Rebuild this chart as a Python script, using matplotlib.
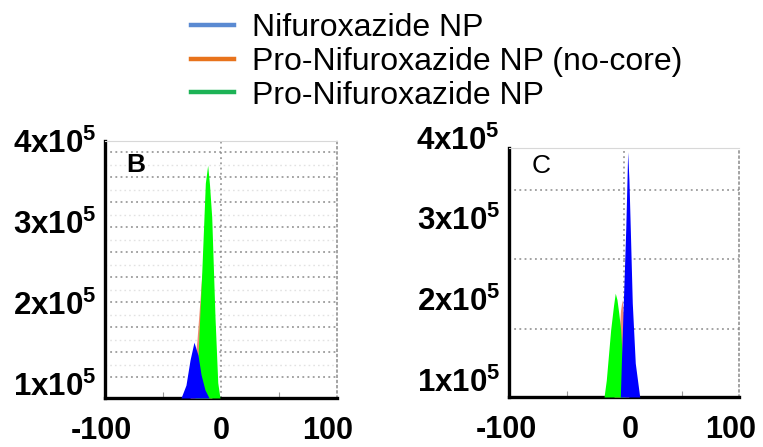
import numpy as np
import matplotlib
matplotlib.use('Agg')
import matplotlib.pyplot as plt
from matplotlib.lines import Line2D
from matplotlib.transforms import ScaledTranslation, blended_transform_factory

plt.rcParams['font.family'] = ['Liberation Sans', 'DejaVu Sans']
plt.rcParams['mathtext.fontset'] = 'custom'
plt.rcParams['mathtext.rm'] = 'Liberation Sans:bold'
plt.rcParams['mathtext.bf'] = 'Liberation Sans:bold'
plt.rcParams['mathtext.it'] = 'Liberation Sans:bold'

# ---------------- data ----------------
series_names = ["Nifuroxazide NP", "Pro-Nifuroxazide NP (no-core)", "Pro-Nifuroxazide NP"]
legend_colors = ["#5a8ad2", "#e8731c", "#1db356"]
fill_colors = ["#0000ff", "#ee8c72", "#00ff00"]

x_ticks = [-100, 0, 100]
x_tick_labels = ["-100", "0", "100"]
y_ticks = [1, 2, 3, 4]  # counts in units of 1e5
y_tick_labels = [r"$\mathbf{1x10^{5}}$", r"$\mathbf{2x10^{5}}$",
                 r"$\mathbf{3x10^{5}}$", r"$\mathbf{4x10^{5}}$"]

# Panel B (zeta potential, mV ; counts x1e5)
b_blue_x = [-34.5, -30.2, -26.7, -23.3, -19.8, -17.2, -13.8, -10.3]
b_blue_y = [0.82, 0.98, 1.29, 1.51, 1.35, 1.11, 0.92, 0.82]
b_orange_x = [-26.7, -23.3, -20.7, -18.1, -16.4, -13.8, -11.2, -7.8]
b_orange_y = [0.82, 1.17, 1.54, 2.04, 2.38, 1.79, 1.17, 0.82]
b_green_x = [-22.4, -20.7, -19.0, -16.6, -13.5, -11.5, -9.9, -8.0, -5.2, -2.8, -0.9]
b_green_y = [0.82, 0.98, 1.60, 2.37, 3.48, 3.70, 3.46, 3.06, 1.83, 1.01, 0.82]

# Panel C
c_blue_x = [-3.2, -2.3, -0.6, 1.5, 2.6, 3.2, 4.3, 5.5, 7.2, 9.8, 13.7]
c_blue_y = [0.79, 1.21, 1.95, 2.85, 3.46, 3.81, 3.46, 2.85, 1.95, 1.21, 0.79]
c_orange_x = [-8.7, -5.2, -3.0, -1.7, 0.0, 2.6, 4.3]
c_orange_y = [0.79, 1.37, 1.86, 1.99, 1.74, 1.00, 0.79]
c_green_x = [-17.4, -15.4, -11.6, -9.1, -7.6, -6.1, -4.6, -2.9, -0.9, 0.9]
c_green_y = [0.79, 1.00, 1.62, 1.92, 2.07, 1.99, 1.83, 1.62, 1.13, 0.79]

# ---------------- figure ----------------
fig = plt.figure(figsize=(7.63, 4.47), dpi=100)
W, H = 763, 447

def px_axes(left, top, right, bottom):
    return fig.add_axes([left / W, 1 - bottom / H, (right - left) / W, (bottom - top) / H])

axB = px_axes(105, 141, 337, 398)
axC = px_axes(509, 148, 739, 397)

panels = [
    (axB, (0.82, 4.0), "B", "bold", (0.09, 0.955), np.linspace(1.08, 3.86, 10), True,
     [(b_orange_x, b_orange_y, 1), (b_green_x, b_green_y, 2), (b_blue_x, b_blue_y, 0)],
     [-4, 0, -9]),
    (axC, (0.793, 3.857), "C", "normal", (0.10, 0.975), [1.63, 2.49, 3.34], False,
     [(c_orange_x, c_orange_y, 1), (c_green_x, c_green_y, 2), (c_blue_x, c_blue_y, 0)],
     [-3, 6, -8]),
]

for ax, ylim, letter, weight, lpos, grid_levels, faint, series, shifts in panels:
    ax.set_xlim(-100, 100)
    ax.set_ylim(*ylim)
    ymin = ylim[0]
    for z, (xs, ys, ci) in enumerate(series):
        ax.fill_between(xs, ys, ymin, color=fill_colors[ci], linewidth=0, zorder=3 + z)
    for g in grid_levels:
        ax.axhline(g, color="#8a8a8a", lw=1.1, ls=(0, (1.2, 2.2)), zorder=1)
    if faint:
        gl = list(grid_levels)
        for a, b in zip(gl[:-1], gl[1:]):
            ax.axhline((a + b) / 2, color="#e2e2e2", lw=1.0, ls=(0, (1.2, 2.2)), zorder=1)
    ax.axvline(0, color="#8a8a8a", lw=1.1, ls=(0, (1.2, 2.2)), zorder=1)

    for s in ("left", "bottom"):
        ax.spines[s].set_linewidth(2.4)
        ax.spines[s].set_color("black")
    ax.spines["top"].set_color("#d8d8d8")
    ax.spines["top"].set_linewidth(0.8)
    ax.spines["right"].set_color("#8a8a8a")
    ax.spines["right"].set_linewidth(1.1)
    ax.spines["right"].set_linestyle((0, (1.2, 2.2)))

    ax.set_xticks(x_ticks)
    ax.set_xticklabels(x_tick_labels, fontsize=22, fontweight="bold")
    ax.set_xticks([-50, 0, 50], minor=True)
    ax.tick_params(axis="x", which="major", length=0, pad=13)
    ax.tick_params(axis="x", which="minor", length=4, direction="in", color="#999999", width=0.8)
    for lab, dx in zip(ax.get_xticklabels(), shifts):
        lab.set_transform(lab.get_transform() + ScaledTranslation(dx / 100, 0, fig.dpi_scale_trans))

    visible = [(t, l) for t, l in zip(y_ticks, y_tick_labels) if ylim[0] <= t <= ylim[1]]
    ax.set_yticks([t for t, _ in visible])
    ax.set_yticklabels([l for _, l in visible], fontsize=22.5)
    ax.tick_params(axis="y", length=0, pad=6)
    trans = blended_transform_factory(ax.transAxes, ax.transData)
    for t, l in zip(y_ticks, y_tick_labels):
        if t > ylim[1]:
            ax.text(-0.04, t, l, transform=trans + ScaledTranslation(0, -0.05, fig.dpi_scale_trans),
                    ha="right", va="center", fontsize=22.5, clip_on=False)

    ax.text(lpos[0], lpos[1], letter, transform=ax.transAxes, ha="left", va="top",
            fontsize=19, fontweight=weight, zorder=10)

handles = [Line2D([0], [0], color=c, lw=3.2) for c in legend_colors]
fig.legend(handles, series_names, loc="upper left", bbox_to_anchor=(191 / W, 1 - 13 / H),
           frameon=False, fontsize=23, handlelength=1.35, handletextpad=0.55,
           labelspacing=0.12, borderpad=0, borderaxespad=0)

fig.savefig("out.png", dpi=100)
